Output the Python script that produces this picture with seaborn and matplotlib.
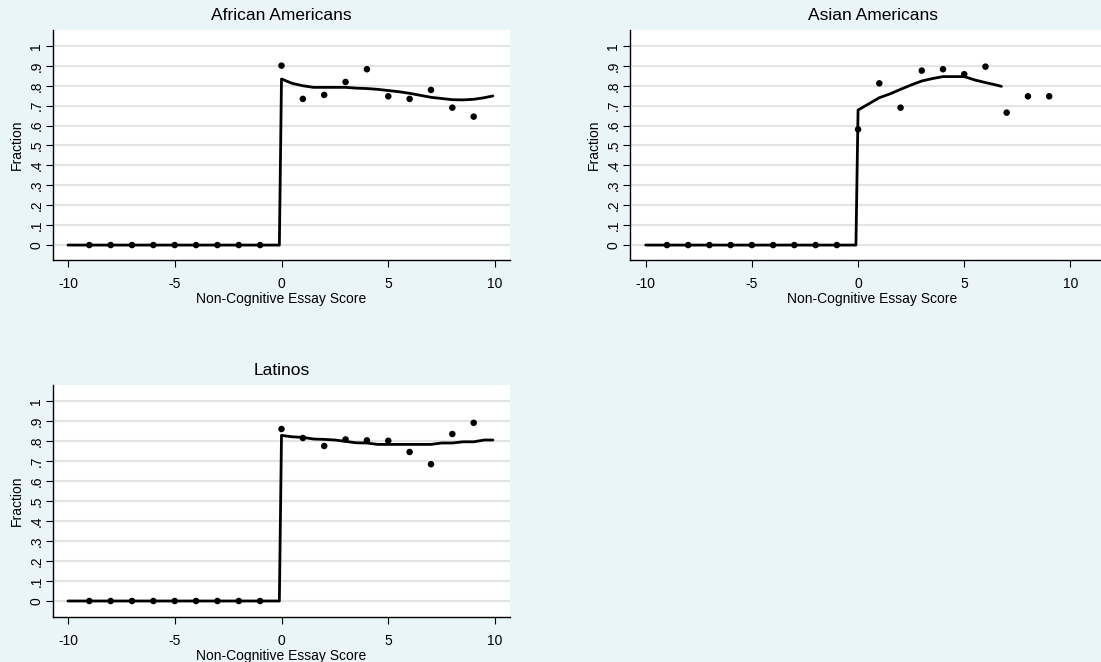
import seaborn as sns
import matplotlib
matplotlib.use("Agg")
import matplotlib.pyplot as plt
import pandas as pd

# binned means (dots)
score = [-9, -8, -7, -6, -5, -4, -3, -2, -1, 0, 1, 2, 3, 4, 5, 6, 7, 8, 9]
afr_frac = [0, 0, 0, 0, 0, 0, 0, 0, 0, 0.901, 0.734, 0.754, 0.819, 0.883, 0.747, 0.734, 0.779, 0.690, 0.645]
asn_frac = [0, 0, 0, 0, 0, 0, 0, 0, 0, 0.581, 0.812, 0.690, 0.876, 0.883, 0.858, 0.896, 0.665, 0.747, 0.747]
lat_frac = [0, 0, 0, 0, 0, 0, 0, 0, 0, 0.860, 0.815, 0.775, 0.808, 0.803, 0.801, 0.745, 0.684, 0.835, 0.891]

# smoothed fits
afr_fit_x = [-10, -0.1, 0, 0.5, 1, 1.5, 2, 2.5, 3, 3.5, 4, 4.5, 5, 5.5, 6, 6.5, 7, 7.5, 8, 8.5, 9, 9.5, 9.9]
afr_fit_y = [0, 0, 0.834, 0.812, 0.800, 0.792, 0.792, 0.792, 0.792, 0.788, 0.786, 0.782, 0.776, 0.770, 0.762, 0.752, 0.742, 0.736, 0.730, 0.729, 0.732, 0.740, 0.749]
asn_fit_x = [-10, -0.1, 0, 0.5, 1, 1.5, 2, 2.5, 3, 3.5, 4, 4.5, 5, 5.5, 6, 6.5, 6.75]
asn_fit_y = [0, 0, 0.678, 0.709, 0.740, 0.759, 0.782, 0.804, 0.824, 0.836, 0.846, 0.846, 0.846, 0.829, 0.816, 0.804, 0.797]
lat_fit_x = [-10, -0.1, 0, 0.5, 1, 1.5, 2, 2.5, 3, 3.5, 4, 4.5, 5, 5.5, 6, 6.5, 7, 7.5, 8, 8.5, 9, 9.5, 9.9]
lat_fit_y = [0, 0, 0.828, 0.821, 0.818, 0.810, 0.808, 0.805, 0.798, 0.791, 0.790, 0.783, 0.783, 0.783, 0.783, 0.783, 0.783, 0.790, 0.790, 0.796, 0.796, 0.805, 0.805]

titles = ["African Americans", "Asian Americans", "Latinos"]
y_ticks = [0, 0.1, 0.2, 0.3, 0.4, 0.5, 0.6, 0.7, 0.8, 0.9, 1]
y_ticklabels = ["0", ".1", ".2", ".3", ".4", ".5", ".6", ".7", ".8", ".9", "1"]
x_ticks = [-10, -5, 0, 5, 10]

bg = "#eaf5f8"
sns.set_style("white", {"axes.facecolor": "white", "figure.facecolor": bg,
                        "text.color": "black", "axes.labelcolor": "black",
                        "xtick.color": "black", "ytick.color": "black",
                        "xtick.bottom": True, "ytick.left": True})
plt.rcParams["font.family"] = ["Liberation Sans", "DejaVu Sans"]

fig = plt.figure(figsize=(11.01, 6.62), dpi=100)
W, H = 1101, 662

# (left, top, right, bottom) in pixels, x limits, y limits
panels = [
    ((53, 30, 510, 260), (-10.7, 10.7), (-0.075, 1.08)),
    ((630, 30, 1115, 260), (-10.74, 12.1), (-0.075, 1.08)),
    ((53, 385, 510, 617), (-10.7, 10.7), (-0.08, 1.08)),
]
dots = [afr_frac, asn_frac, lat_frac]
fits = [(afr_fit_x, afr_fit_y), (asn_fit_x, asn_fit_y), (lat_fit_x, lat_fit_y)]

for i, ((l, t, r, b), xl, yl) in enumerate(panels):
    ax = fig.add_axes([l / W, (H - b) / H, (r - l) / W, (b - t) / H])
    for yv in y_ticks:
        ax.axhline(yv, color="#e4e4e4", lw=1.6, zorder=0)
    fx, fy = fits[i]
    fit_df = pd.DataFrame({"x": fx, "y": fy})
    dot_df = pd.DataFrame({"x": score, "y": dots[i]})
    sns.lineplot(data=fit_df, x="x", y="y", ax=ax, color="black", lw=2,
                 sort=False, estimator=None, zorder=3)
    sns.scatterplot(data=dot_df, x="x", y="y", ax=ax, color="black", s=22,
                    edgecolor="none", zorder=4)
    ax.set_xlim(*xl)
    ax.set_ylim(*yl)
    ax.set_xticks(x_ticks)
    ax.set_xticklabels([str(v) for v in x_ticks], fontsize=10)
    ax.set_yticks(y_ticks)
    ax.set_yticklabels(y_ticklabels, fontsize=10, rotation=90, va="center")
    ax.tick_params(axis="both", direction="out", length=5, width=0.8,
                   color="black", labelcolor="black",
                   bottom=True, left=True)
    ax.tick_params(axis="x", pad=7)
    ax.tick_params(axis="y", pad=2)
    ax.set_xlabel("Non-Cognitive Essay Score", fontsize=10, labelpad=1, color="black")
    ax.set_ylabel("Fraction", fontsize=10, labelpad=4, color="black")
    ax.set_title(titles[i], fontsize=12.5, pad=7, color="black")
    for s in ["top", "right"]:
        ax.spines[s].set_visible(False)
    for s in ["left", "bottom"]:
        ax.spines[s].set_color("black")
        ax.spines[s].set_linewidth(1)

fig.savefig("out.png", dpi=100, facecolor=bg)
